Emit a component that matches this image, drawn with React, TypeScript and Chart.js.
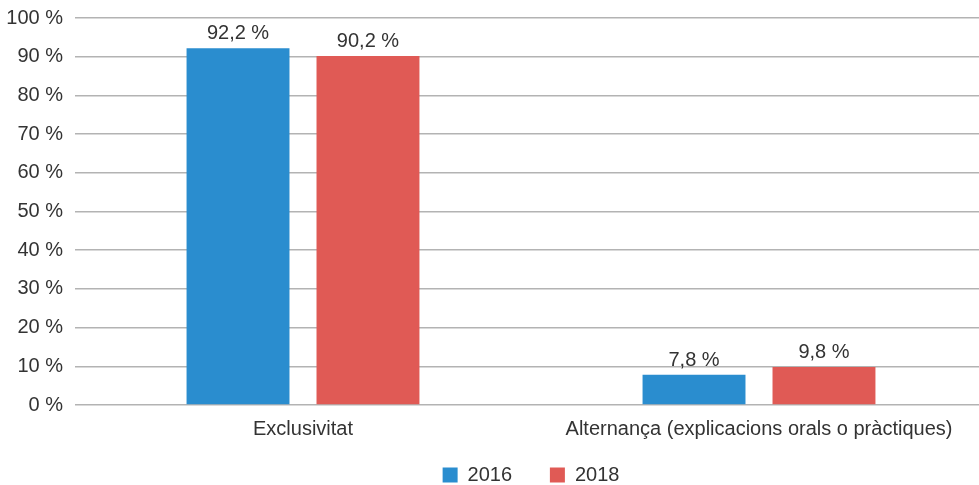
import React, { useEffect, useRef } from "react";
import { Chart, registerables } from "chart.js";

Chart.register(...registerables);

const categories = ["Exclusivitat", "Alternança (explicacions orals o pràctiques)"];
const seriesNames = ["2016", "2018"];
const values2016 = [92.2, 7.8];
const values2018 = [90.2, 9.8];
const colors = ["#2A8DCF", "#E05A55"];

const FONT = "'Liberation Sans', Arial, Helvetica, sans-serif";
const fmt = (v: number) => v.toFixed(1).replace(".", ",") + " %";

const labelPlugin = {
  id: "valueLabels",
  afterDatasetsDraw(chart: any) {
    const ctx = chart.ctx;
    ctx.save();
    ctx.font = `20px ${FONT}`;
    ctx.fillStyle = "#333333";
    ctx.textAlign = "center";
    ctx.textBaseline = "alphabetic";
    chart.data.datasets.forEach((ds: any, i: number) => {
      const meta = chart.getDatasetMeta(i);
      meta.data.forEach((bar: any, j: number) => {
        ctx.fillText(fmt(ds.data[j]), bar.x, bar.y - 9);
      });
    });
    ctx.restore();
  },
};

export default function App() {
  const ref = useRef<HTMLCanvasElement>(null);
  useEffect(() => {
    document.body.style.margin = "0";
    const chart = new Chart(ref.current!, {
      type: "bar",
      data: {
        labels: categories,
        datasets: [
          { label: seriesNames[0], data: values2016, backgroundColor: colors[0] },
          { label: seriesNames[1], data: values2018, backgroundColor: colors[1] },
        ],
      },
      options: {
        animation: false,
        responsive: false,
        maintainAspectRatio: false,
        layout: { padding: { top: 18, right: 0, left: 0, bottom: -10 } },
        datasets: { bar: { categoryPercentage: 0.57, barPercentage: 0.792 } },
        scales: {
          x: {
            afterFit: (s: any) => { s.height = 50; },
            grid: { display: false, drawTicks: false },
            border: { display: false },
            ticks: { color: "#333333", font: { family: FONT, size: 20 }, padding: 12 },
          },
          y: {
            min: 0,
            max: 100,
            afterFit: (s: any) => {
              s.width = 75;
              s.paddingTop = 6;
              s.paddingBottom = 6;
            },
            grid: { color: "#B3B3B3", lineWidth: 1.5, drawTicks: false },
            border: { display: false },
            ticks: {
              stepSize: 10,
              color: "#333333",
              font: { family: FONT, size: 20 },
              padding: 12,
              callback: (v: any) => v + " %",
            },
          },
        },
        plugins: {
          legend: {
            position: "bottom",
            fullSize: false,
            labels: {
              boxWidth: 15,
              boxHeight: 15,
              padding: 10,
              color: "#333333",
              font: { family: FONT, size: 20 },
              generateLabels: (c: any) => {
                const items = Chart.defaults.plugins.legend.labels.generateLabels(c);
                return items.map((it: any, i: number) =>
                  i < items.length - 1 ? { ...it, text: it.text + "\u00A0\u00A0\u00A0\u00A0\u00A0" } : it
                );
              },
            },
          },
          tooltip: { enabled: false },
        },
      },
      plugins: [labelPlugin],
    });
    return () => chart.destroy();
  }, []);
  return (
    <div style={{ width: 979, height: 485, overflow: "hidden", position: "relative" }}>
      <canvas ref={ref} width={987} height={485} style={{ display: "block" }} />
    </div>
  );
}
